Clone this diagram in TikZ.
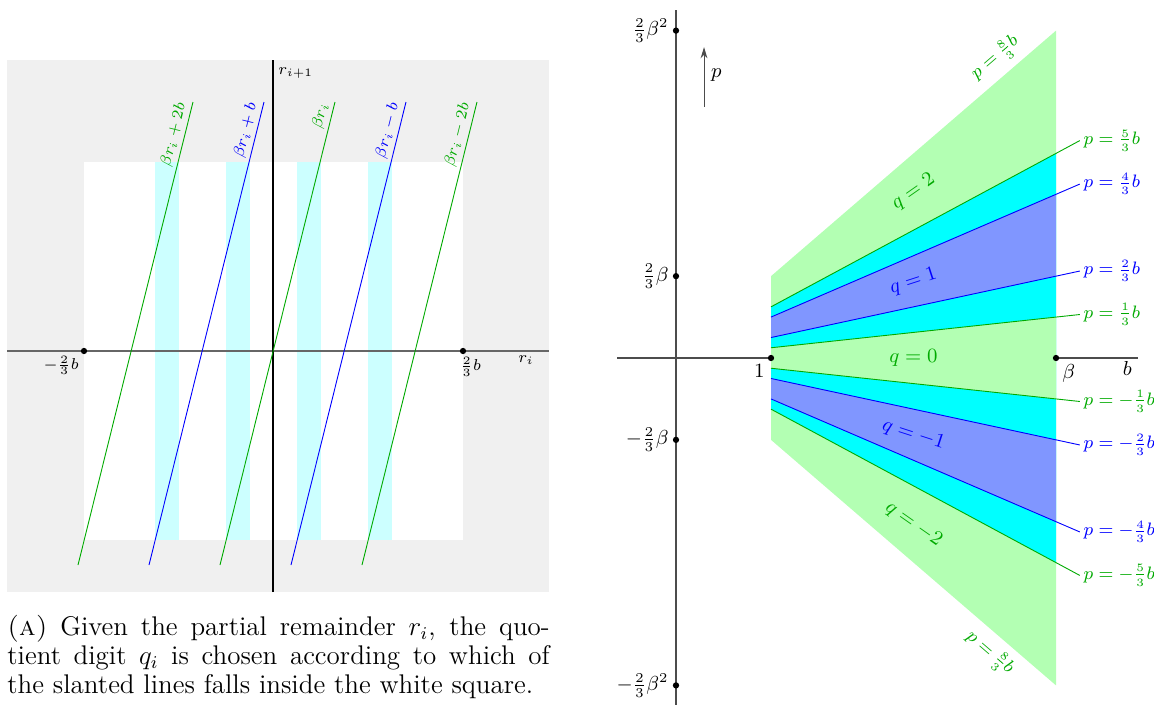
\documentclass[tikz,border=0pt]{standalone}
\usepackage{amsmath}
\usetikzlibrary{arrows.meta}
\definecolor{mygreen}{RGB}{0,170,0}
\definecolor{myblue}{RGB}{0,0,255}
\definecolor{mycyan}{RGB}{0,255,255}
\definecolor{lgray}{RGB}{240,240,240}
\definecolor{lcyan}{RGB}{204,255,255}
\definecolor{bfill}{RGB}{128,150,255}
\definecolor{gfill}{RGB}{179,255,179}
\begin{document}
\begin{tikzpicture}[x=0.4444pt,y=-0.4444pt,
  dot/.style={circle,fill=black,inner sep=0pt,minimum size=2.8pt},
  axis/.style={black!70,line width=0.45pt},
  lbl/.style={font=\small,inner sep=1.5pt},
  slantlbl/.style={font=\scriptsize,sloped,anchor=south east,inner sep=1.5pt},
  plbl/.style={font=\fontsize{7.6}{9}\selectfont,sloped,anchor=west,inner sep=1.5pt},
  qlbl/.style={font=\small,sloped}]
\useasboundingbox (0,0) rectangle (1154,705);
% ---------- left plot ----------
\fill[lgray] (7,60) rectangle (549,592);
\fill[white] (84,162) rectangle (463,540);
\foreach \a in {155,226,297,368} \fill[lcyan] (\a,162) rectangle (\a+24,540);
\coordinate (hl) at (7,351); \coordinate (hr) at (549,351);
\coordinate (vt) at (273,60); \coordinate (vb) at (273,592);
\draw[axis,black!60] (hl) -- (hr);
\draw[black,line width=0.45pt] (vb) -- (vt);
\foreach \bx/\col/\lab [count=\i] in {78/mygreen/{\beta r_i+2b}, 149/myblue/{\beta r_i+b}, 220/mygreen/{\beta r_i}, 291/myblue/{\beta r_i-b}, 362/mygreen/{\beta r_i-2b}}{
  \coordinate (s\i) at (\bx,565); \coordinate (e\i) at (\bx+115,102);
  \draw[\col] (s\i) -- (e\i) node[pos=1,slantlbl,text=\col]{$\lab$};
}
\node[dot] (lm) at (84,351) {};
\node[dot] (rm) at (463,351) {};
\node[font=\scriptsize,anchor=north east,inner sep=1pt] (lml) at (lm.south west) {$-\frac{2}{3}b$};
\node[font=\scriptsize,anchor=north west,inner sep=1pt] (rml) at ([xshift=-2.5pt]rm.south) {$\frac{2}{3}b$};
\node[font=\scriptsize,anchor=north,inner sep=1pt] (ril) at (526,353) {$r_i$};
\node[font=\scriptsize,anchor=north west,inner sep=0pt] (rill) at (278,67) {$r_{i+1}$};
% caption
\node[anchor=north west,text width=241pt,align=justify,inner sep=0pt,font=\fontsize{12}{12.9}\selectfont] (cap) at (7,615)
 {\textsc{(a)} Given the partial remainder $r_i$, the quo-\linebreak tient digit $q_i$ is chosen according to which of\linebreak the slanted lines falls inside the white square.};
% ---------- right plot ----------
\begin{scope}[shift={(676,358)},x=42.22pt,y=13.64pt]
% axes (drawn first, the fills cover them)
\coordinate (xl) at (-0.62,0); \coordinate (xr) at (4.86,0);
\coordinate (yt) at (0,11.33); \coordinate (yb) at (0,-11.5);
\draw[axis] (xl) -- (xr);
\draw[axis] (yb) -- (yt);
\fill[gfill] (1,8/3) -- (4,32/3) -- (4,-32/3) -- (1,-8/3) -- cycle;
\fill[mycyan] (1,5/3) -- (4,20/3) -- (4,-20/3) -- (1,-5/3) -- cycle;
\fill[gfill] (1,1/3) -- (4,4/3) -- (4,-4/3) -- (1,-1/3) -- cycle;
\fill[bfill] (1,2/3) -- (4,8/3) -- (4,16/3) -- (1,4/3) -- cycle;
\fill[bfill] (1,-2/3) -- (4,-8/3) -- (4,-16/3) -- (1,-4/3) -- cycle;
\foreach \k/\col/\lab in {5/mygreen/{\frac{5}{3}b}, 4/myblue/{\frac{4}{3}b}, 2/myblue/{\frac{2}{3}b}, 1/mygreen/{\frac{1}{3}b}, -1/mygreen/{-\frac{1}{3}b}, -2/myblue/{-\frac{2}{3}b}, -4/myblue/{-\frac{4}{3}b}, -5/mygreen/{-\frac{5}{3}b}}{
  \coordinate (ls\k) at (1,{(\k)/3}); \coordinate (le\k) at (4.25,{4.25*(\k)/3});
  \draw[\col] (ls\k) -- (le\k) node[plbl,text=\col]{$p=\lab$};
}
\coordinate (tA) at (1,8/3); \coordinate (tB) at (4,32/3);
\coordinate (bA) at (1,-8/3); \coordinate (bB) at (4,-32/3);
\path (tA) -- (tB) node[pos=0.83,sloped,above,font=\fontsize{7.6}{9}\selectfont,text=mygreen]{$p=\frac{8}{3}b$};
\path (bA) -- (bB) node[pos=0.81,sloped,below,font=\fontsize{7.6}{9}\selectfont,text=mygreen]{$p=\frac{8}{3}b$};
% q labels
\coordinate (q2a) at (1,13/6); \coordinate (q2b) at (4,26/3);
\coordinate (q1a) at (1,1); \coordinate (q1b) at (4,4);
\coordinate (qm1a) at (1,-1); \coordinate (qm1b) at (4,-4);
\coordinate (qm2a) at (1,-13/6); \coordinate (qm2b) at (4,-26/3);
\path (q2a) -- (q2b) node[pos=0.5,qlbl,text=mygreen]{$q=2$};
\path (q1a) -- (q1b) node[pos=0.5,qlbl,text=myblue]{$q=1$};
\node[font=\small,text=mygreen] (q0) at (2.5,0) {$q=0$};
\path (qm1a) -- (qm1b) node[pos=0.5,qlbl,text=myblue]{$q=-1$};
\path (qm2a) -- (qm2b) node[pos=0.5,qlbl,text=mygreen]{$q=-2$};
% arrow p
\coordinate (pa) at (0.295,8.18); \coordinate (pb) at (0.295,10.13);
\draw[axis,-{Stealth[length=5pt,width=3pt]}] (pa) -- (pb);
\node[lbl,anchor=west] (plab) at (0.33,9.22) {$p$};
\node[dot] (d1) at (0,32/3) {};
\node[dot] (d2) at (0,8/3) {};
\node[dot] (d3) at (0,-8/3) {};
\node[dot] (d4) at (0,-32/3) {};
\node[dot] (d5) at (1,0) {};
\node[dot] (d6) at (4,0) {};
\node[lbl,anchor=east] at (d1.west) {$\frac{2}{3}\beta^2$};
\node[lbl,anchor=east] at (d2.west) {$\frac{2}{3}\beta$};
\node[lbl,anchor=east] at (d3.west) {$-\frac{2}{3}\beta$};
\node[lbl,anchor=east] at (d4.west) {$-\frac{2}{3}\beta^2$};
\node[lbl,anchor=north east] at (d5.south west) {$1$};
\node[lbl,anchor=north west] at (d6.south east) {$\beta$};
\node[lbl,anchor=north] at (4.75,0) {$b$};
\end{scope}
\end{tikzpicture}
\end{document}
